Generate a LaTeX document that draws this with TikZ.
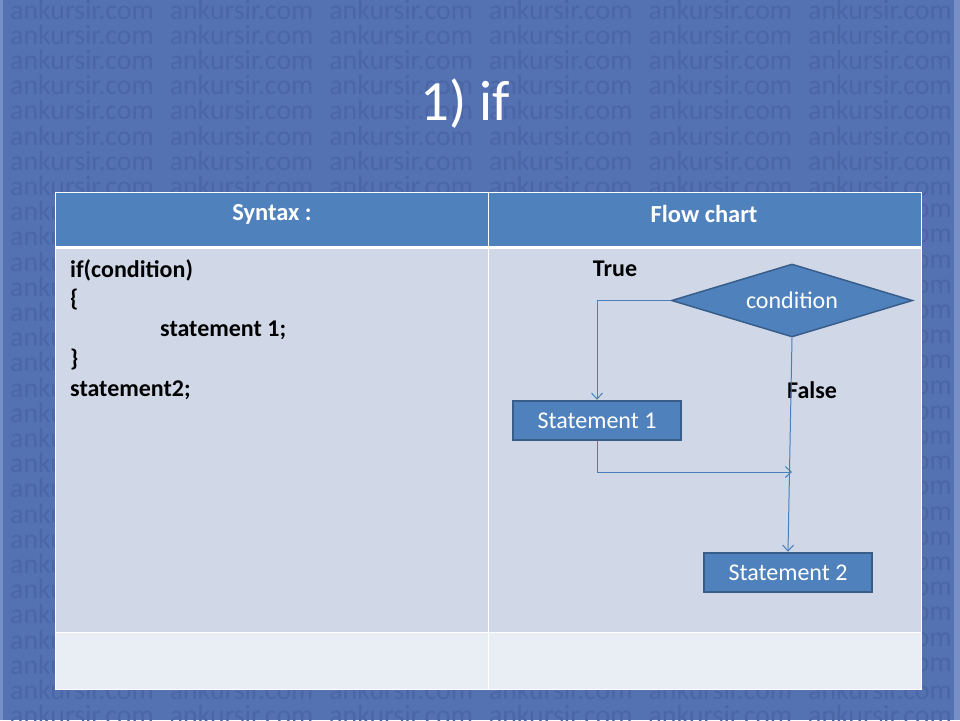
\documentclass[tikz,border=0pt]{standalone}
\usepackage{fontspec}
\setmainfont{Carlito}
\usetikzlibrary{shapes.geometric,arrows.meta}

\definecolor{slidebg}{RGB}{84,113,177}
\definecolor{slideedge}{RGB}{118,143,198}
\definecolor{wmark}{RGB}{75,102,164}
\definecolor{hdrblue}{RGB}{79,129,189}
\definecolor{rowlight}{RGB}{208,216,232}
\definecolor{rowpale}{RGB}{233,237,244}
\definecolor{shapeline}{RGB}{56,93,138}
\definecolor{connblue}{RGB}{74,126,187}

\tikzset{
  wmtext/.style={anchor=west, inner sep=0pt, text=wmark,
    font=\fontsize{27.8}{27.8}\selectfont},
  titletext/.style={text=white, inner sep=0pt,
    font=\fontsize{57}{57}\selectfont},
  hdrtext/.style={text=white, inner sep=0pt,
    font=\fontsize{24.5}{24.5}\selectfont\bfseries},
  codeline/.style={anchor=west, text=black, inner sep=0pt,
    font=\fontsize{24}{24}\selectfont\bfseries},
  flowlabel/.style={text=black, inner sep=0pt,
    font=\fontsize{24}{24}\selectfont\bfseries},
  decision/.style={diamond, aspect=3.3, fill=hdrblue, draw=shapeline,
    line width=1.5pt, inner sep=0pt, minimum width=241pt, minimum height=73pt,
    text=white, font=\fontsize{24}{24}\selectfont},
  stepbox/.style={rectangle, fill=hdrblue, draw=shapeline, line width=2.5pt,
    minimum width=168pt, minimum height=39pt, inner sep=0pt,
    text=white, font=\fontsize{24}{24}\selectfont},
  conn/.style={draw=connblue, line width=1pt,
    -{Straight Barb[length=6pt,width=11pt]}},
}

\begin{document}
\begin{tikzpicture}[x=1pt,y=-1pt]
  % slide background
  \fill[slidebg] (0,0) rectangle (960,720);
  \useasboundingbox (0,0) rectangle (960,720);
  \fill[slideedge] (0,0) rectangle (3,720);
  \fill[slideedge] (954,0) rectangle (960,720);

  % repeated watermark; beside the table only the edge letters are set,
  % the inner columns are left out where the table covers them
  \foreach \r in {0,...,28} {
    \foreach \c in {0,...,5} {
      \pgfmathtruncatemacro{\band}{(\r>7)*(\r<27)}
      \coordinate (wp) at ({10+159.6*\c},{9.5+25.2*\r});
      \ifnum\band=0
        \node[wmtext] (wm-\r-\c) at (wp) {ankursir.com};
      \else
        \ifnum\c=0
          \node[wmtext] (wm-\r-\c) at (wp) {anku\hphantom{rsir.com}};
        \fi
        \ifnum\c=5
          \node[wmtext] (wm-\r-\c) at (wp) {\hphantom{ankursir.}com};
        \fi
      \fi
    }
  }

  % title
  \node[titletext] (title) at (465,104) {1) if};

  % table
  \fill[hdrblue] (55,192) rectangle (921,247);
  \fill[rowlight] (55,247) rectangle (921,632);
  \fill[rowpale] (55,632) rectangle (921,689);
  \draw[white, line width=1pt] (55,192) rectangle (921,689);
  \draw[white, line width=3pt] (55,247) -- (921,247);
  \draw[white, line width=1pt] (55,632) -- (921,632);
  \draw[white, line width=1pt] (488,192) -- (488,689);

  \node[hdrtext] (hsyntax) at (272,214) {Syntax :};
  \node[hdrtext] (hflow) at (704,214) {Flow chart};

  % syntax column
  \node[codeline] (c1) at (70,270) {if(condition)};
  \node[codeline] (c2) at (70,300) {\{};
  \node[codeline] (c3) at (160,330) {statement 1;};
  \node[codeline] (c4) at (70,360) {\}};
  \node[codeline] (c5) at (70,390) {statement2;};

  % flow chart column
  \node[decision] (cond) at (792,300.5) {condition};
  \node[stepbox] (s1) at (597,420.5) {Statement 1};
  \node[stepbox] (s2) at (788,572.5) {Statement 2};
  \node[flowlabel] (ltrue) at (615,269) {True};
  \node[flowlabel] (lfalse) at (812,390) {False};
  \coordinate (join) at (792,472);

  \draw[conn] (cond.west) -| (s1.north);
  \draw[conn] (s1.south) |- (join);
  \draw[conn] (cond.south) -- (s2.north);
\end{tikzpicture}
\end{document}
